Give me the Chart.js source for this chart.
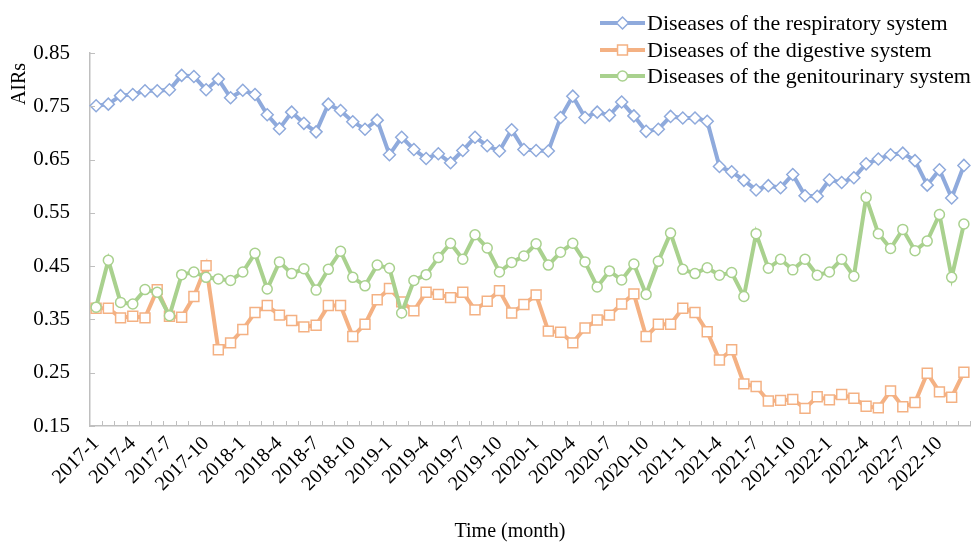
<!DOCTYPE html>
<html>
<head>
<meta charset="utf-8">
<script src="https://cdn.jsdelivr.net/npm/chart.js@4.4.1/dist/chart.umd.min.js"></script>
<style>
  html, body { margin: 0; padding: 0; background: #ffffff; }
  #wrap { width: 971px; height: 544px; position: relative; }
</style>
</head>
<body>
<div id="wrap"><canvas id="c"></canvas></div>
<script>
const months = [
  "2017-1","2017-2","2017-3","2017-4","2017-5","2017-6","2017-7","2017-8","2017-9","2017-10","2017-11","2017-12",
  "2018-1","2018-2","2018-3","2018-4","2018-5","2018-6","2018-7","2018-8","2018-9","2018-10","2018-11","2018-12",
  "2019-1","2019-2","2019-3","2019-4","2019-5","2019-6","2019-7","2019-8","2019-9","2019-10","2019-11","2019-12",
  "2020-1","2020-2","2020-3","2020-4","2020-5","2020-6","2020-7","2020-8","2020-9","2020-10","2020-11","2020-12",
  "2021-1","2021-2","2021-3","2021-4","2021-5","2021-6","2021-7","2021-8","2021-9","2021-10","2021-11","2021-12",
  "2022-1","2022-2","2022-3","2022-4","2022-5","2022-6","2022-7","2022-8","2022-9","2022-10","2022-11","2022-12"
];
const shownMonthLabels = [
  "2017-1","2017-4","2017-7","2017-10","2018-1","2018-4","2018-7","2018-10",
  "2019-1","2019-4","2019-7","2019-10","2020-1","2020-4","2020-7","2020-10",
  "2021-1","2021-4","2021-7","2021-10","2022-1","2022-4","2022-7","2022-10"
];
const yTickValues = [0.15, 0.25, 0.35, 0.45, 0.55, 0.65, 0.75, 0.85];

const respiratory = [
  0.751,0.754,0.770,0.772,0.779,0.779,0.781,0.808,0.806,0.781,0.801,0.766,
  0.780,0.772,0.734,0.708,0.739,0.718,0.702,0.754,0.742,0.721,0.707,0.724,
  0.659,0.692,0.669,0.652,0.661,0.644,0.667,0.692,0.676,0.666,0.706,0.669,
  0.667,0.666,0.729,0.769,0.729,0.739,0.733,0.758,0.732,0.703,0.707,0.731,
  0.728,0.728,0.722,0.637,0.627,0.611,0.593,0.601,0.597,0.622,0.582,0.581,
  0.612,0.607,0.616,0.642,0.651,0.659,0.662,0.648,0.602,0.631,0.578,0.639
];
const digestive = [
  0.371,0.371,0.353,0.356,0.353,0.406,0.356,0.354,0.393,0.451,0.293,0.306,
  0.331,0.363,0.376,0.358,0.348,0.336,0.339,0.376,0.376,0.318,0.341,0.387,
  0.408,0.383,0.366,0.401,0.397,0.391,0.401,0.368,0.384,0.404,0.362,0.378,
  0.396,0.328,0.326,0.306,0.334,0.349,0.358,0.379,0.398,0.318,0.341,0.341,
  0.371,0.363,0.327,0.274,0.293,0.229,0.224,0.197,0.198,0.200,0.183,0.205,
  0.199,0.209,0.202,0.187,0.184,0.216,0.186,0.194,0.249,0.214,0.204,0.251
];
const genitourinary = [
  0.373,0.461,0.382,0.379,0.406,0.401,0.357,0.434,0.439,0.429,0.426,0.423,
  0.439,0.474,0.407,0.458,0.436,0.445,0.405,0.444,0.478,0.429,0.413,0.452,
  0.446,0.362,0.423,0.434,0.466,0.493,0.463,0.509,0.484,0.439,0.457,0.469,
  0.492,0.452,0.476,0.493,0.458,0.411,0.441,0.424,0.454,0.397,0.459,0.512,
  0.444,0.436,0.447,0.433,0.438,0.393,0.511,0.446,0.463,0.443,0.463,0.433,
  0.439,0.463,0.431,0.579,0.511,0.483,0.519,0.479,0.497,0.547,0.429,0.529
];
const seriesNames = [
  "Diseases of the respiratory system",
  "Diseases of the digestive system",
  "Diseases of the genitourinary system"
];
const xTitle = "Time (month)";
const yTitle = "AIRs";

const BLUE = '#8FAADC', ORANGE = '#F4B183', GREEN = '#A9D18E', AXIS = '#BFBFBF';
const FONT = "'Liberation Serif', 'Times New Roman', serif";

function ds(label, data, color, style, radius, order) {
  return {
    label, data, order,
    borderColor: color, borderWidth: 4, tension: 0,
    pointStyle: style, pointRadius: radius, pointHoverRadius: radius,
    pointBackgroundColor: '#ffffff', pointBorderColor: color, pointBorderWidth: 1.5,
    fill: false
  };
}

const insideTicks = {
  id: 'insideTicks',
  afterDatasetsDraw(chart) {
    const ctx = chart.ctx, x = chart.scales.x, y = chart.scales.y;
    ctx.save();
    ctx.strokeStyle = AXIS; ctx.lineWidth = 1;
    const n = months.length;
    const w = (x.right - x.left) / n;
    for (let i = 1; i <= n; i++) {
      const px = Math.round(x.left + i * w) + 0.5;
      ctx.beginPath(); ctx.moveTo(px, y.bottom); ctx.lineTo(px, y.bottom - 5); ctx.stroke();
    }
    yTickValues.forEach(v => {
      const py = Math.round(y.getPixelForValue(v)) + 0.5;
      ctx.beginPath(); ctx.moveTo(x.left, py); ctx.lineTo(x.left + 5, py); ctx.stroke();
    });
    ctx.restore();
  }
};

const customLegendAndTitles = {
  id: 'customLegendAndTitles',
  afterDraw(chart) {
    const ctx = chart.ctx;
    const rows = [23, 50, 76];
    ctx.save();
    chart.data.datasets.forEach((d, i) => {
      const yy = rows[i];
      ctx.strokeStyle = d.borderColor; ctx.lineWidth = 4; ctx.lineCap = 'butt';
      ctx.beginPath(); ctx.moveTo(600, yy); ctx.lineTo(645, yy); ctx.stroke();
      ctx.fillStyle = '#ffffff'; ctx.strokeStyle = d.borderColor; ctx.lineWidth = 1.5;
      Chart.helpers.drawPoint(ctx, {pointStyle: d.pointStyle, radius: d.pointRadius, borderWidth: 1.5, rotation: 0}, 622.5, yy);
      ctx.fillStyle = '#000000';
      ctx.font = "22px " + FONT;
      ctx.textBaseline = 'middle'; ctx.textAlign = 'left';
      ctx.fillText(d.label, 647, yy + 1);
    });
    ctx.fillStyle = '#000000';
    ctx.font = "20px " + FONT;
    ctx.textAlign = 'center'; ctx.textBaseline = 'middle';
    ctx.fillText(xTitle, 510, 532);
    ctx.translate(20, 84);
    ctx.rotate(-Math.PI / 2);
    ctx.fillText(yTitle, 0, 0);
    ctx.restore();
  }
};

new Chart(document.getElementById('c'), {
  type: 'line',
  data: {
    labels: months,
    datasets: [
      ds(seriesNames[0], respiratory, BLUE, 'rectRot', 6, 2),
      ds(seriesNames[1], digestive, ORANGE, 'rect', 7, 1),
      ds(seriesNames[2], genitourinary, GREEN, 'circle', 5, 0)
    ]
  },
  options: {
    responsive: true,
    maintainAspectRatio: false,
    animation: false,
    layout: { autoPadding: false, padding: { top: 53, right: 1, left: 0, bottom: 0 } },
    plugins: { legend: { display: false }, tooltip: { enabled: false } },
    scales: {
      x: {
        type: 'category',
        offset: true,
        grid: { display: false, drawTicks: false },
        border: { display: true, color: AXIS, width: 1.5 },
        ticks: {
          autoSkip: false, maxRotation: 45, minRotation: 45, padding: 6,
          color: '#000000', font: { family: FONT, size: 20 },
          callback: (v, i) => shownMonthLabels.includes(months[i]) ? months[i] : ''
        },
        afterFit: s => { s.height = 118; s.paddingLeft = 0; s.paddingRight = 0; }
      },
      y: {
        min: 0.15, max: 0.85,
        afterBuildTicks: s => { s.ticks = yTickValues.map(v => ({ value: v })); },
        grid: { display: false, drawTicks: false },
        border: { display: true, color: AXIS, width: 1.5 },
        ticks: { padding: 20, color: '#000000', font: { family: FONT, size: 21 }, callback: v => Number(v).toFixed(2) },
        afterFit: s => { s.width = 90; s.paddingTop = 0; s.paddingBottom = 0; }
      }
    }
  },
  plugins: [insideTicks, customLegendAndTitles]
});
</script>
</body>
</html>
